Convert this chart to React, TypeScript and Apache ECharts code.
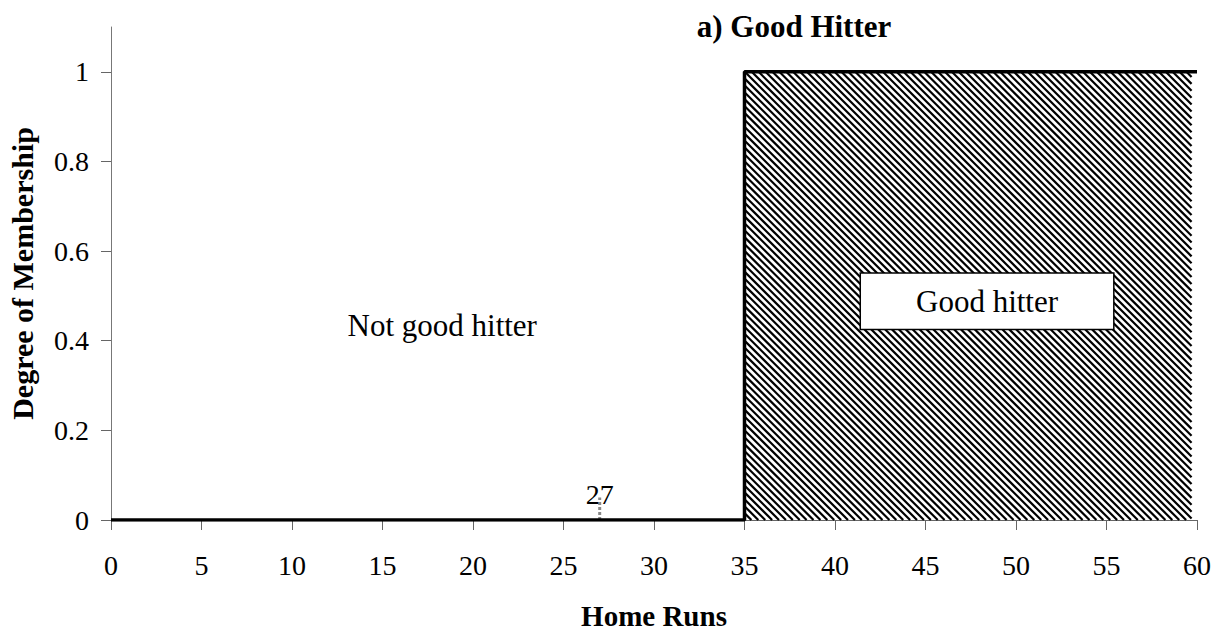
import React, { useEffect, useRef } from "react";
import * as echarts from "echarts";

// ---- data ----
const membershipLine: number[][] = [
  [0, 0],
  [35, 0],
  [35, 1],
  [60, 1],
];
// hatched "good hitter" region: [xStart, xEnd, yStart, yEnd]
const goodRegion: number[][] = [[35, 59.7, 0, 1]];
// marker at 27 home runs
const markerValue = 27;
const markerLine: number[][] = [
  [27, 0],
  [27, 0.05],
];
const markerLabelPoint: number[][] = [[27, 0.057]];
// annotation positions (data coords)
const notGoodLabel: number[][] = [[18.3, 0.435]];
const goodLabel: number[][] = [[48.4, 0.488]];

const xTicks = { min: 0, max: 60, interval: 5 };
const yTicks = { min: 0, max: 1.1, interval: 0.2 };

const FONT = "'Liberation Serif', 'Times New Roman', serif";

export default function App() {
  const ref = useRef<HTMLDivElement>(null);
  useEffect(() => {
    if (!ref.current) return;
    const chart = echarts.init(ref.current, undefined, { renderer: "svg" });
    const option: any = {
      animation: false,
      backgroundColor: "#ffffff",
      textStyle: { fontFamily: FONT },
      grid: {
        left: 111,
        right: 21,
        top: 27,
        bottom: 112,
        containLabel: false,
        outerBoundsMode: "none",
      },
      graphic: [
        {
          type: "text",
          x: 794,
          y: 26,
          style: {
            text: "a) Good Hitter",
            font: `bold 31px ${FONT}`,
            fill: "#000",
            textAlign: "center",
            textVerticalAlign: "middle",
          },
        },
      ],
      xAxis: {
        type: "value",
        min: xTicks.min,
        max: xTicks.max,
        interval: xTicks.interval,
        name: "Home Runs",
        nameLocation: "middle",
        nameGap: 81,
        nameTextStyle: { fontFamily: FONT, fontSize: 29, fontWeight: "bold", color: "#000" },
        splitLine: { show: false },
        axisLine: { show: true, lineStyle: { color: "#666", width: 1 } },
        axisTick: { show: true, length: 10, lineStyle: { color: "#666", width: 1 } },
        axisLabel: { fontFamily: FONT, fontSize: 28, color: "#000", margin: 31 },
      },
      yAxis: {
        type: "value",
        min: yTicks.min,
        max: yTicks.max,
        interval: yTicks.interval,
        name: "Degree of Membership",
        nameLocation: "middle",
        nameGap: 74,
        nameTextStyle: { fontFamily: FONT, fontSize: 30, fontWeight: "bold", color: "#000" },
        splitLine: { show: false },
        axisLine: { show: true, lineStyle: { color: "#777", width: 1 } },
        axisTick: { show: true, length: 10, lineStyle: { color: "#666", width: 1 } },
        axisLabel: {
          fontFamily: FONT,
          fontSize: 28,
          color: "#000",
          margin: 22,
          showMaxLabel: false,
          formatter: (v: number) => {
            const r = Math.round(v * 10) / 10;
            if (r > 1) return "";
            return String(r);
          },
        },
      },
      series: [
        {
          type: "custom",
          z: 1,
          silent: true,
          data: goodRegion,
          renderItem: (params: any, api: any) => {
            const tl = api.coord([api.value(0), api.value(3)]);
            const br = api.coord([api.value(1), api.value(2)]);
            const x0 = tl[0], y0 = tl[1], x1 = br[0], y1 = br[1];
            const H = y1 - y0;
            const step = 6.9;
            const children: any[] = [];
            for (let c = x0 - H; c < x1; c += step) {
              const ts = Math.max(0, x0 - c);
              const te = Math.min(H, x1 - c);
              if (ts >= te) continue;
              children.push({
                type: "line",
                shape: { x1: c + ts, y1: y0 + ts, x2: c + te, y2: y0 + te },
                style: { stroke: "#000", lineWidth: 2.2 },
              });
            }
            return { type: "group", children };
          },
        },
        {
          type: "line",
          z: 5,
          data: markerLine,
          symbol: "none",
          lineStyle: { color: "#888", width: 3, type: [3, 2] },
          silent: true,
        },
        {
          type: "line",
          z: 6,
          data: membershipLine,
          symbol: "none",
          lineStyle: { color: "#000", width: 3.5 },
          silent: true,
        },
        {
          type: "scatter",
          z: 7,
          data: markerLabelPoint,
          symbolSize: 0,
          silent: true,
          itemStyle: { opacity: 1 },
          label: {
            show: true,
            position: "inside",
            formatter: String(markerValue),
            fontFamily: FONT,
            fontSize: 28,
            color: "#000",
          },
        },
        {
          type: "scatter",
          z: 7,
          data: notGoodLabel,
          symbolSize: 0,
          silent: true,
          itemStyle: { opacity: 1 },
          label: {
            show: true,
            position: "inside",
            formatter: "Not good hitter",
            fontFamily: FONT,
            fontSize: 31,
            color: "#000",
          },
        },
        {
          type: "scatter",
          z: 8,
          data: goodLabel,
          symbolSize: 0,
          silent: true,
          itemStyle: { opacity: 1 },
          label: {
            show: true,
            position: "inside",
            formatter: "Good hitter",
            fontFamily: FONT,
            fontSize: 31,
            color: "#000",
            backgroundColor: "#fff",
            borderColor: "#000",
            borderWidth: 1.5,
            padding: [12, 55, 12, 55],
          },
        },
      ],
    };
    chart.setOption(option);
    return () => chart.dispose();
  }, []);
  return (
    <div
      ref={ref}
      style={{ position: "fixed", left: 0, top: 0, width: 1218, height: 632, background: "#fff" }}
    />
  );
}
